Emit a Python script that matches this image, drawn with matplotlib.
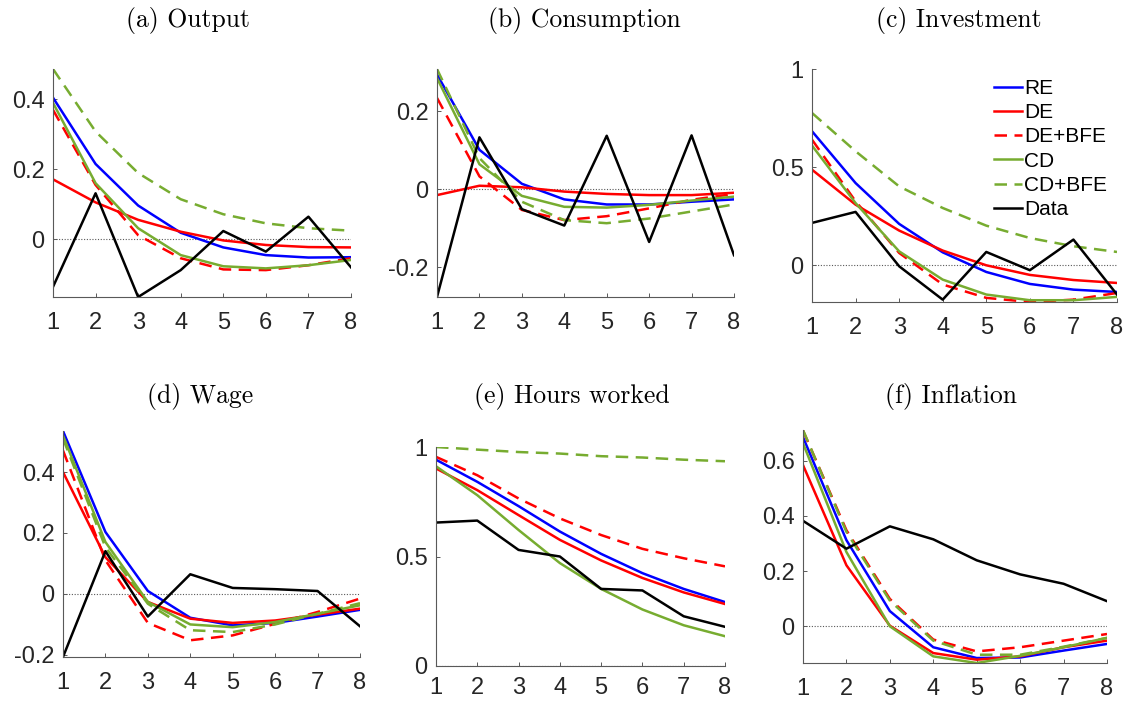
import matplotlib
matplotlib.use('Agg')
import matplotlib.pyplot as plt

plt.rcParams['font.family'] = ['Liberation Sans', 'DejaVu Sans']
plt.rcParams['axes.unicode_minus'] = False

# horizonte
t = [1, 2, 3, 4, 5, 6, 7, 8]

modelos = ['RE', 'DE', 'DE+BFE', 'CD', 'CD+BFE', 'Data']

# (a) Output
output_re = [0.405, 0.215, 0.096, 0.018, -0.024, -0.046, -0.053, -0.052]
output_de = [0.171, 0.105, 0.055, 0.021, -0.004, -0.017, -0.023, -0.024]
output_debfe = [0.37, 0.155, 0.011, -0.055, -0.087, -0.089, -0.075, -0.055]
output_cd = [0.39, 0.16, 0.031, -0.046, -0.078, -0.084, -0.075, -0.06]
output_cdbfe = [0.487, 0.308, 0.189, 0.114, 0.071, 0.045, 0.031, 0.024]
output_data = [-0.137, 0.131, -0.166, -0.089, 0.023, -0.036, 0.064, -0.081]

# (b) Consumption
cons_re = [0.294, 0.101, 0.014, -0.026, -0.039, -0.039, -0.032, -0.026]
cons_de = [-0.015, 0.009, 0.005, -0.006, -0.012, -0.015, -0.015, -0.009]
cons_debfe = [0.234, 0.033, -0.053, -0.079, -0.069, -0.049, -0.027, -0.012]
cons_cd = [0.285, 0.064, -0.017, -0.045, -0.047, -0.04, -0.029, -0.019]
cons_cdbfe = [0.308, 0.08, -0.032, -0.079, -0.087, -0.075, -0.057, -0.039]
cons_data = [-0.276, 0.133, -0.051, -0.093, 0.137, -0.135, 0.138, -0.169]

# (c) Investment
inv_re = [0.683, 0.419, 0.211, 0.066, -0.034, -0.095, -0.124, -0.136]
inv_de = [0.487, 0.309, 0.177, 0.075, 0.0, -0.049, -0.075, -0.09]
inv_debfe = [0.64, 0.326, 0.063, -0.098, -0.166, -0.187, -0.175, -0.141]
inv_cd = [0.61, 0.317, 0.071, -0.073, -0.149, -0.178, -0.178, -0.161]
inv_cdbfe = [0.776, 0.581, 0.402, 0.292, 0.202, 0.139, 0.097, 0.068]
inv_data = [0.216, 0.272, -0.005, -0.175, 0.068, -0.025, 0.131, -0.149]

# (d) Wage
wage_re = [0.535, 0.203, 0.009, -0.079, -0.104, -0.096, -0.075, -0.053]
wage_de = [0.4, 0.12, -0.027, -0.082, -0.096, -0.088, -0.069, -0.049]
wage_debfe = [0.471, 0.11, -0.096, -0.153, -0.137, -0.099, -0.06, -0.016]
wage_cd = [0.52, 0.17, -0.027, -0.101, -0.11, -0.093, -0.066, -0.038]
wage_cdbfe = [0.51, 0.153, -0.033, -0.12, -0.126, -0.101, -0.066, -0.031]
wage_data = [-0.208, 0.14, -0.075, 0.064, 0.019, 0.015, 0.009, -0.107]

# (e) Hours worked
hours_re = [0.942, 0.841, 0.73, 0.614, 0.512, 0.424, 0.352, 0.292]
hours_de = [0.902, 0.803, 0.689, 0.576, 0.482, 0.402, 0.336, 0.283]
hours_debfe = [0.955, 0.871, 0.765, 0.674, 0.598, 0.535, 0.492, 0.455]
hours_cd = [0.912, 0.78, 0.621, 0.47, 0.352, 0.258, 0.186, 0.136]
hours_cdbfe = [1.0, 0.988, 0.977, 0.97, 0.958, 0.952, 0.942, 0.935]
hours_data = [0.655, 0.664, 0.53, 0.5, 0.352, 0.345, 0.227, 0.179]

# (f) Inflation
infl_re = [0.685, 0.312, 0.055, -0.076, -0.115, -0.113, -0.088, -0.064]
infl_de = [0.584, 0.221, 0.002, -0.097, -0.121, -0.109, -0.076, -0.052]
infl_debfe = [0.709, 0.348, 0.099, -0.048, -0.091, -0.076, -0.052, -0.028]
infl_cd = [0.663, 0.269, 0.0, -0.109, -0.133, -0.107, -0.076, -0.042]
infl_cdbfe = [0.711, 0.342, 0.093, -0.052, -0.103, -0.103, -0.074, -0.042]
infl_data = [0.382, 0.281, 0.362, 0.315, 0.239, 0.188, 0.154, 0.091]

titulos = ['(a) Output', '(b) Consumption', '(c) Investment',
           '(d) Wage', '(e) Hours worked', '(f) Inflation']

paineis = [
    [output_re, output_de, output_debfe, output_cd, output_cdbfe, output_data],
    [cons_re, cons_de, cons_debfe, cons_cd, cons_cdbfe, cons_data],
    [inv_re, inv_de, inv_debfe, inv_cd, inv_cdbfe, inv_data],
    [wage_re, wage_de, wage_debfe, wage_cd, wage_cdbfe, wage_data],
    [hours_re, hours_de, hours_debfe, hours_cd, hours_cdbfe, hours_data],
    [infl_re, infl_de, infl_debfe, infl_cd, infl_cdbfe, infl_data],
]

yticks = [[0, 0.2, 0.4], [-0.2, 0, 0.2], [0, 0.5, 1],
          [-0.2, 0, 0.2, 0.4], [0, 0.5, 1], [0, 0.2, 0.4, 0.6]]

verde = '#77AC30'
estilos = [
    dict(color='#0000FF', ls='-'),
    dict(color='#FF0000', ls='-'),
    dict(color='#FF0000', ls='--', dashes=(5, 3)),
    dict(color=verde, ls='-'),
    dict(color=verde, ls='--', dashes=(5, 3)),
    dict(color='black', ls='-'),
]

W, H = 1127, 702
# caixas dos eixos em pixels: esquerda, topo, direita, base
caixas = [(53, 69, 351, 297), (437, 69, 734, 297), (812, 69, 1117, 302),
          (63, 431, 360, 657), (436, 447, 725, 666), (803, 430, 1107, 663)]
pos_titulo = [(188, 20), (584, 20), (959, 20), (200, 397), (572, 397), (951, 397)]
pad_x = [11, 11, 11, 11, 8, 11]

fig = plt.figure(figsize=(W / 100, H / 100), dpi=100)

eixos = []
for i, series in enumerate(paineis):
    l, tp, r, b = caixas[i]
    ax = fig.add_axes([l / W, 1 - b / H, (r - l) / W, (b - tp) / H])
    ax.axhline(0, color='0.35', ls=(0, (1, 1.5)), lw=0.8, zorder=1)
    for s, st, nome in zip(series, estilos, modelos):
        ax.plot(t, s, lw=1.8, label=nome, zorder=2, **st)
    todos = [v for s in series for v in s]
    lo, hi = min(todos), max(todos)
    if i == 2:
        hi = 1
    if i == 4:
        lo, hi = 0, 1
    ax.set_ylim(lo, hi)
    ax.set_xlim(1, 8)
    ax.set_xticks(t)
    ax.set_yticks(yticks[i])
    ax.set_yticklabels([('%g' % v) for v in yticks[i]])
    for lado in ['top', 'right']:
        ax.spines[lado].set_visible(False)
    for lado in ['left', 'bottom']:
        ax.spines[lado].set_color('0.35')
        ax.spines[lado].set_linewidth(0.8)
    ax.tick_params(direction='in', length=3, width=0.7, color='0.35',
                   labelcolor='0.15', labelsize=17)
    ax.tick_params(axis='x', pad=pad_x[i])
    ax.tick_params(axis='y', pad=6)
    cx, cy = pos_titulo[i]
    fig.text(cx / W, 1 - cy / H, titulos[i], ha='center', va='center',
             family='cmr10', fontsize=18.5)
    eixos.append(ax)

h, lab = eixos[2].get_legend_handles_labels()
eixos[2].legend(h, lab, loc='upper left', bbox_to_anchor=(994 / W, 1 - 79 / H),
                bbox_transform=fig.transFigure, frameon=False, fontsize=15,
                handlelength=1.35, handletextpad=0.1, labelspacing=0.25,
                borderpad=0, borderaxespad=0)

fig.savefig('out.png', dpi=100)
